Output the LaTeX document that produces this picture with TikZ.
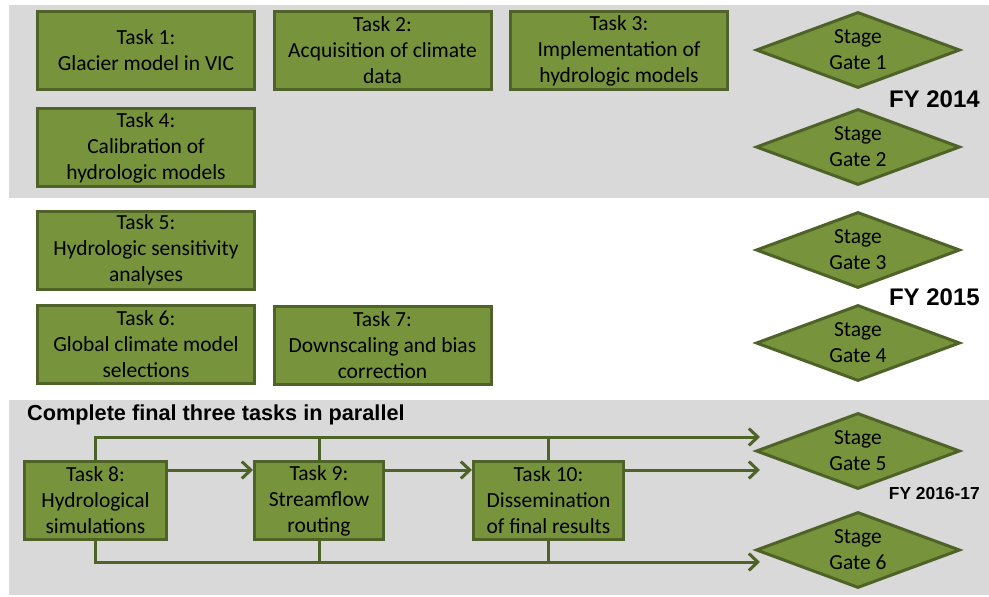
\documentclass[tikz,border=0pt]{standalone}
\usepackage{fontspec}
\setmainfont{Carlito}
\newfontfamily\headfont{Liberation Sans}
\usetikzlibrary{shapes.geometric,arrows.meta}
\definecolor{boxfill}{HTML}{77933C}
\definecolor{boxline}{HTML}{4F6228}
\definecolor{band}{HTML}{D9D9D9}
\begin{document}
\begin{tikzpicture}[x=1pt,y=-1pt,
  task/.style={draw=boxline, fill=boxfill, line width=3pt, minimum width=217pt,
    minimum height=78pt, inner sep=0pt, align=center,
    font=\fontsize{21.5}{26}\selectfont, text=black},
  gate/.style={shape=diamond, draw=boxline, fill=boxfill, line width=3pt,
    minimum width=204pt, minimum height=76pt, inner sep=0pt},
  gatelbl/.style={align=center, inner sep=0pt,
    font=\fontsize{21.5}{26}\selectfont, text=black},
  head/.style={font=\headfont\bfseries\fontsize{21.7}{26}\selectfont, inner sep=0pt},
  conn/.style={draw=boxline, line width=3pt},
  arrowc/.style={conn, -{Straight Barb[length=9pt,width=17pt]}}]
\useasboundingbox (0,0) rectangle (989,597);
\fill[white] (0,0) rectangle (989,597);
\fill[band] (9,5) rectangle (989,198);
\fill[band] (9,400) rectangle (989,595);

% FY 2014
\node[task] (t1) at (146,50.5) {Task 1:\\Glacier model in VIC};
\node[task] (t2) at (382.5,50.5) {Task 2:\\Acquisition of climate\\data};
\node[task] (t3) at (619,50.5) {Task 3:\\Implementation of\\hydrologic models};
\node[task] (t4) at (146,147.5) {Task 4:\\Calibration of\\hydrologic models};
\node[gate, label={[gatelbl]center:Stage\\Gate 1}] (g1) at (858,50) {};
\node[gate, label={[gatelbl]center:Stage\\Gate 2}] (g2) at (858,147) {};
\node[head, anchor=east, font=\headfont\bfseries\fontsize{24}{28}\selectfont] (fy1) at (980,99) {FY 2014};

% FY 2015
\node[task] (t5) at (146,250) {Task 5:\\Hydrologic sensitivity\\analyses};
\node[task] (t6) at (146,344) {Task 6:\\Global climate model\\selections};
\node[task] (t7) at (382.5,345) {Task 7:\\Downscaling and bias\\correction};
\node[gate, label={[gatelbl]center:Stage\\Gate 3}] (g3) at (858,250) {};
\node[gate, label={[gatelbl]center:Stage\\Gate 4}] (g4) at (858,343) {};
\node[head, anchor=east, font=\headfont\bfseries\fontsize{24}{28}\selectfont] (fy2) at (980,297) {FY 2015};

% FY 2016-17
\node[head, anchor=west] (hd) at (27,415) {Complete final three tasks in parallel};
\node[task, minimum width=142pt] (t8) at (95.5,500.5) {Task 8:\\Hydrological\\simulations};
\node[task, minimum width=129pt] (t9) at (319,500.5) {Task 9:\\Streamflow\\routing};
\node[task, minimum width=150pt] (t10) at (548.5,500.5) {Task 10:\\Dissemination\\of final results};
\node[gate, label={[gatelbl]center:Stage\\Gate 5}] (g5) at (858,451) {};
\node[gate, label={[gatelbl]center:Stage\\Gate 6}] (g6) at (858,550) {};
\node[head, anchor=east, font=\headfont\bfseries\fontsize{17.4}{21}\selectfont] (fy3) at (980,494) {FY 2016-17};

\coordinate (a5a) at (760,437);
\coordinate (a5b) at (760,470);
\coordinate (a6) at (760,562);

\draw[arrowc] (t8.north) |- (a5a);
\draw[conn] (t9.north) -- (t9.north |- a5a);
\draw[conn] (t10.north) -- (t10.north |- a5a);
\draw[arrowc] (t8.east |- a5b) -- (t9.west |- a5b);
\draw[arrowc] (t9.east |- a5b) -- (t10.west |- a5b);
\draw[arrowc] (t10.east |- a5b) -- (a5b);
\draw[arrowc] (t8.south) |- (a6);
\draw[conn] (t9.south) -- (t9.south |- a6);
\draw[conn] (t10.south) -- (t10.south |- a6);
\end{tikzpicture}
\end{document}
